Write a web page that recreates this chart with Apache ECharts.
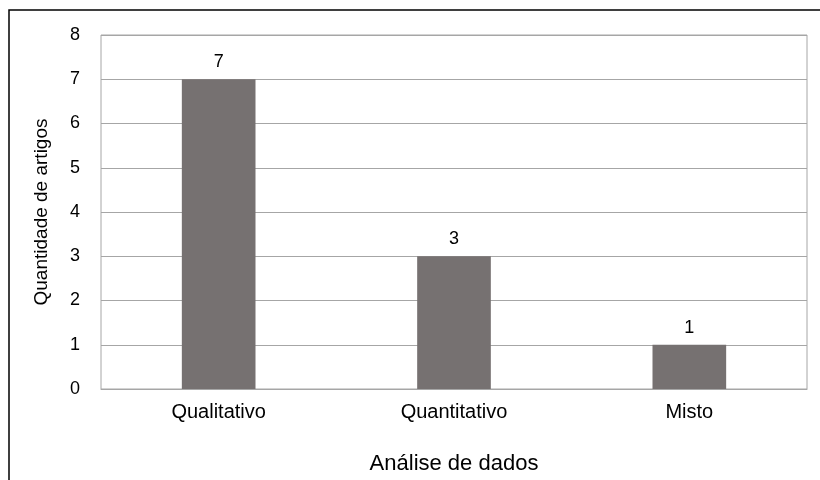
<!DOCTYPE html>
<html>
<head>
<meta charset="utf-8">
<script src="https://cdn.jsdelivr.net/npm/echarts@6/dist/echarts.min.js"></script>
<style>
  html, body { margin: 0; padding: 0; background: #fff; }
  #chart { width: 820px; height: 480px; }
</style>
</head>
<body>
<div id="chart"></div>
<script>
// Number of articles per type of data analysis
const categories = ['Qualitativo', 'Quantitativo', 'Misto'];
const articleCounts = [7, 3, 1];
const yTicks = [0, 1, 2, 3, 4, 5, 6, 7, 8];

const chart = echarts.init(document.getElementById('chart'), null, { renderer: 'canvas' });
const font = 'Liberation Sans, Arial, sans-serif';

chart.setOption({
  backgroundColor: '#ffffff',
  animation: false,
  graphic: [{
    type: 'rect',
    shape: { x: 9, y: 10, width: 830, height: 490 },
    style: { fill: 'none', stroke: '#000000', lineWidth: 1.5 },
    silent: true
  }],
  grid: { left: 101, top: 35, right: 13, bottom: 88, show: true, borderColor: '#a6a6a6', borderWidth: 1 },
  xAxis: {
    type: 'category',
    data: categories,
    name: 'Análise de dados',
    nameLocation: 'middle',
    nameGap: 64,
    nameTextStyle: { fontFamily: font, fontSize: 22, color: '#000' },
    axisLine: { show: true, lineStyle: { color: '#a6a6a6' } },
    axisTick: { show: false },
    axisLabel: { fontFamily: font, fontSize: 20, color: '#000', margin: 13 }
  },
  yAxis: {
    type: 'value',
    min: yTicks[0],
    max: yTicks[yTicks.length - 1],
    interval: 1,
    name: 'Quantidade de artigos',
    nameLocation: 'middle',
    nameGap: 50,
    nameTextStyle: { fontFamily: font, fontSize: 19, color: '#000' },
    axisLine: { show: false },
    axisTick: { show: false },
    axisLabel: { fontFamily: font, fontSize: 18, color: '#000', margin: 21 },
    splitLine: { lineStyle: { color: '#a6a6a6', width: 1 } }
  },
  series: [{
    type: 'bar',
    data: articleCounts,
    barWidth: '31.3%',
    itemStyle: { color: '#767171' },
    label: {
      show: true,
      position: 'top',
      distance: 8,
      fontFamily: font,
      fontSize: 18,
      color: '#000'
    }
  }]
});
</script>
</body>
</html>
